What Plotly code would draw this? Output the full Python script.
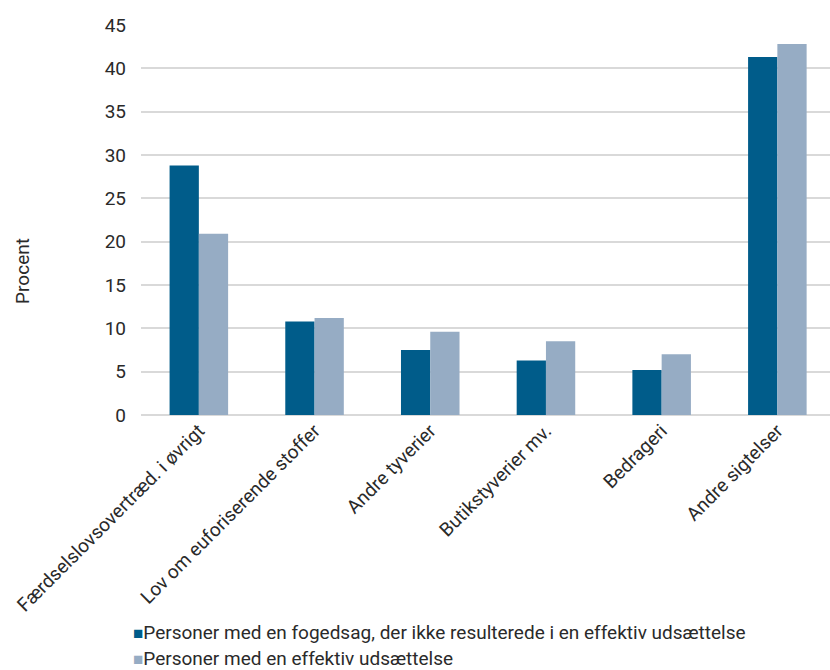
import plotly.graph_objects as go

categories = [
    "Færdselslovsovertræd. i øvrigt",
    "Lov om euforiserende stoffer",
    "Andre tyverier",
    "Butikstyverier mv.",
    "Bedrageri",
    "Andre sigtelser",
]
fogedsag_uden_udsaettelse = [28.8, 10.8, 7.5, 6.3, 5.2, 41.3]
effektiv_udsaettelse = [20.9, 11.2, 9.6, 8.5, 7.0, 42.8]

series_names = [
    "Personer med en fogedsag, der ikke resulterede i en effektiv udsættelse",
    "Personer med en effektiv udsættelse",
]
series_colors = ["#005c8a", "#96acc4"]
y_ticks = list(range(0, 50, 5))

FONT = "Roboto, Liberation Sans, sans-serif"
TEXT = "#2a2a2a"

fig = go.Figure()
for name, values, color in zip(series_names,
                               [fogedsag_uden_udsaettelse, effektiv_udsaettelse],
                               series_colors):
    fig.add_trace(go.Bar(x=categories, y=values, name=name,
                         marker=dict(color=color, line=dict(width=0))))

# Compact legend: small coloured square right next to each series name
legend_y = [-0.557, -0.625]
for name, color, y in zip(series_names, series_colors, legend_y):
    fig.add_annotation(
        xref="paper", yref="paper", x=-0.015, y=y, xanchor="left", yanchor="middle",
        showarrow=False, align="left",
        text=f"<span style='color:{color}; font-size:17px'>■</span>{name}",
        font=dict(family=FONT, size=19, color=TEXT),
    )

# Y-axis title, placed a little below the plot's vertical centre
fig.add_annotation(
    xref="paper", yref="paper", x=-0.173, y=0.369, xanchor="center", yanchor="middle",
    showarrow=False, textangle=-90, text="Procent",
    font=dict(family=FONT, size=19, color=TEXT),
)

fig.update_layout(
    width=830, height=670,
    margin=dict(l=141, r=0, t=25, b=255),
    paper_bgcolor="white", plot_bgcolor="white",
    barmode="group", bargap=0.494, bargroupgap=0,
    font=dict(family=FONT, size=19, color=TEXT),
    showlegend=False,
    xaxis=dict(tickangle=-45, showgrid=False, showline=False, ticks="",
               range=[-0.5, 5.455], automargin=False,
               tickfont=dict(size=19, color=TEXT)),
    yaxis=dict(range=[0, 45], tickvals=y_ticks, showgrid=True, gridcolor="#d9d9d9",
               gridwidth=1.5, zeroline=True, zerolinecolor="#d9d9d9", zerolinewidth=1.5,
               showline=False, ticks="", ticklen=0, automargin=False,
               ticklabelstandoff=14, tickfont=dict(size=19, color=TEXT)),
)

fig.write_html("out.html")
